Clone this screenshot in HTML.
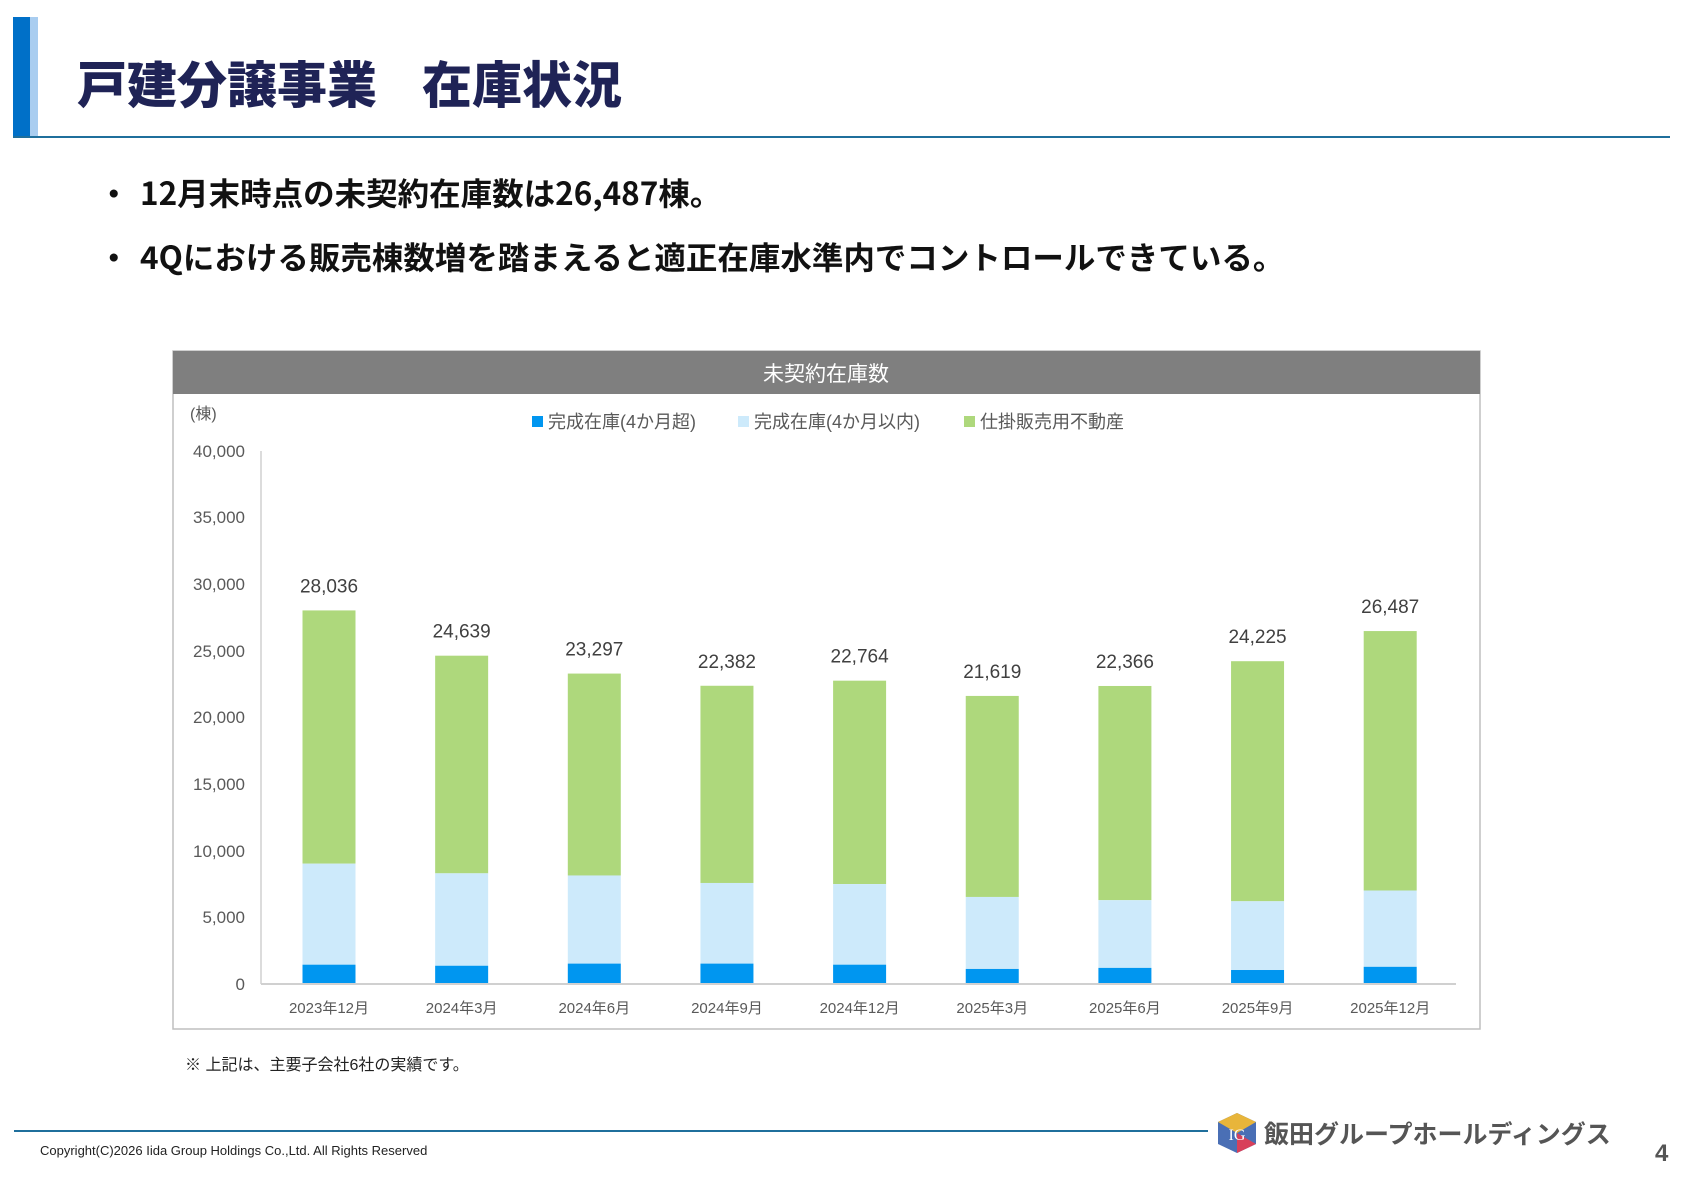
<!DOCTYPE html>
<html><head><meta charset="utf-8"><style>
body{margin:0;width:1684px;height:1190px;background:#fff;overflow:hidden;font-family:"Liberation Sans","Noto Sans CJK JP",sans-serif;}
</style></head><body>
<svg width="1684" height="1190" xmlns="http://www.w3.org/2000/svg" font-family="Liberation Sans, Noto Sans CJK JP, sans-serif">
<rect x="13" y="17" width="17" height="120" fill="#0070c8"/>
<rect x="30" y="17" width="8" height="120" fill="#a9cdf0"/>
<line x1="13" y1="137" x2="1670" y2="137" stroke="#1f6f9c" stroke-width="2"/>
<text x="77" y="103" font-size="50" font-weight="900" fill="#1f2356" font-family="Noto Sans CJK JP, sans-serif">戸建分譲事業<tspan x="422">在庫状況</tspan></text>
<g font-size="31.5" font-weight="bold" fill="#111" font-family="Noto Sans CJK JP, sans-serif">
<text x="98" y="205">・</text><text x="140" y="205">12月末時点の未契約在庫数は26,487棟。</text>
<text x="98" y="269">・</text><text x="140" y="269">4Qにおける販売棟数増を踏まえると適正在庫水準内でコントロールできている。</text>
</g>
<rect x="173" y="351" width="1307" height="678" fill="#fff" stroke="#bfbfbf" stroke-width="1.5"/>
<rect x="173" y="351" width="1307" height="43" fill="#7f7f7f"/>
<text x="826" y="381" font-size="21" fill="#fff" text-anchor="middle">未契約在庫数</text>
<text x="190" y="419" font-size="16" fill="#595959">(棟)</text>
<g font-size="18" fill="#595959">
<rect x="532" y="416" width="11" height="11" fill="#0096f0"/><text x="548" y="428">完成在庫(4か月超)</text>
<rect x="738" y="416" width="11" height="11" fill="#cdeafb"/><text x="754" y="428">完成在庫(4か月以内)</text>
<rect x="964" y="416" width="11" height="11" fill="#aed87c"/><text x="980" y="428">仕掛販売用不動産</text>
</g>
<g font-size="17" fill="#595959" text-anchor="end">
<text x="245" y="990">0</text><text x="245" y="923">5,000</text><text x="245" y="857">10,000</text><text x="245" y="790">15,000</text><text x="245" y="723">20,000</text><text x="245" y="657">25,000</text><text x="245" y="590">30,000</text><text x="245" y="523">35,000</text><text x="245" y="457">40,000</text>
</g>
<line x1="261" y1="451" x2="261" y2="984" stroke="#d0d0d0" stroke-width="1.5"/>
<g id="bars"></g>
<line x1="261" y1="984" x2="1456" y2="984" stroke="#d0d0d0" stroke-width="2"/>
<text x="185" y="1070" font-size="16" fill="#222">※ 上記は、主要子会社6社の実績です。</text>
<line x1="14" y1="1131" x2="1208" y2="1131" stroke="#1f6f9c" stroke-width="2"/>
<text x="40" y="1155" font-size="13" fill="#222">Copyright(C)2026 Iida Group Holdings Co.,Ltd. All Rights Reserved</text>
<polygon points="1237,1113 1256,1122 1256,1144 1237,1153 1218,1144 1218,1122" fill="#4a6fb5"/>
<polygon points="1237,1113 1256,1122 1237,1133 1218,1122" fill="#e8b53a"/>
<polygon points="1237,1133 1256,1144 1237,1153" fill="#d8405a"/>
<text x="1237" y="1140" font-size="16" fill="#fff" text-anchor="middle" font-family="Liberation Serif, serif">IG</text>
<text x="1264" y="1143" font-size="25" font-weight="bold" fill="#555" font-family="Noto Sans CJK JP, sans-serif">飯田グループホールディングス</text>
<text x="1655" y="1161" font-size="24" font-weight="bold" fill="#555">4</text>
</svg>
<script>
var d=[[1450,9032,28036,"2023年12月"],[1370,8306,24639,"2024年3月"],[1530,8145,23297,"2024年6月"],[1530,7581,22382,"2024年9月"],[1450,7500,22764,"2024年12月"],[1130,6532,21619,"2025年3月"],[1210,6290,22366,"2025年6月"],[1050,6210,24225,"2025年9月"],[1290,7016,26487,"2025年12月"]];
var g=document.getElementById("bars"),s="",k=533/40000;
function Y(v){return 984-v*k;}
d.forEach(function(r,i){var c=329+i*132.65,x=c-26.5;
s+='<rect x="'+x+'" y="'+Y(r[2])+'" width="53" height="'+(Y(r[1])-Y(r[2]))+'" fill="#aed87c"/>';
s+='<rect x="'+x+'" y="'+Y(r[1])+'" width="53" height="'+(Y(r[0])-Y(r[1]))+'" fill="#cdeafb"/>';
s+='<rect x="'+x+'" y="'+Y(r[0])+'" width="53" height="'+(984-Y(r[0]))+'" fill="#0096f0"/>';
s+='<text x="'+c+'" y="'+(Y(r[2])-18)+'" font-size="19" fill="#404040" text-anchor="middle">'+r[2].toLocaleString("en-US")+'</text>';
s+='<text x="'+c+'" y="1013" font-size="15" fill="#595959" text-anchor="middle">'+r[3]+'</text>';});
g.innerHTML=s;
</script>
</body></html>
